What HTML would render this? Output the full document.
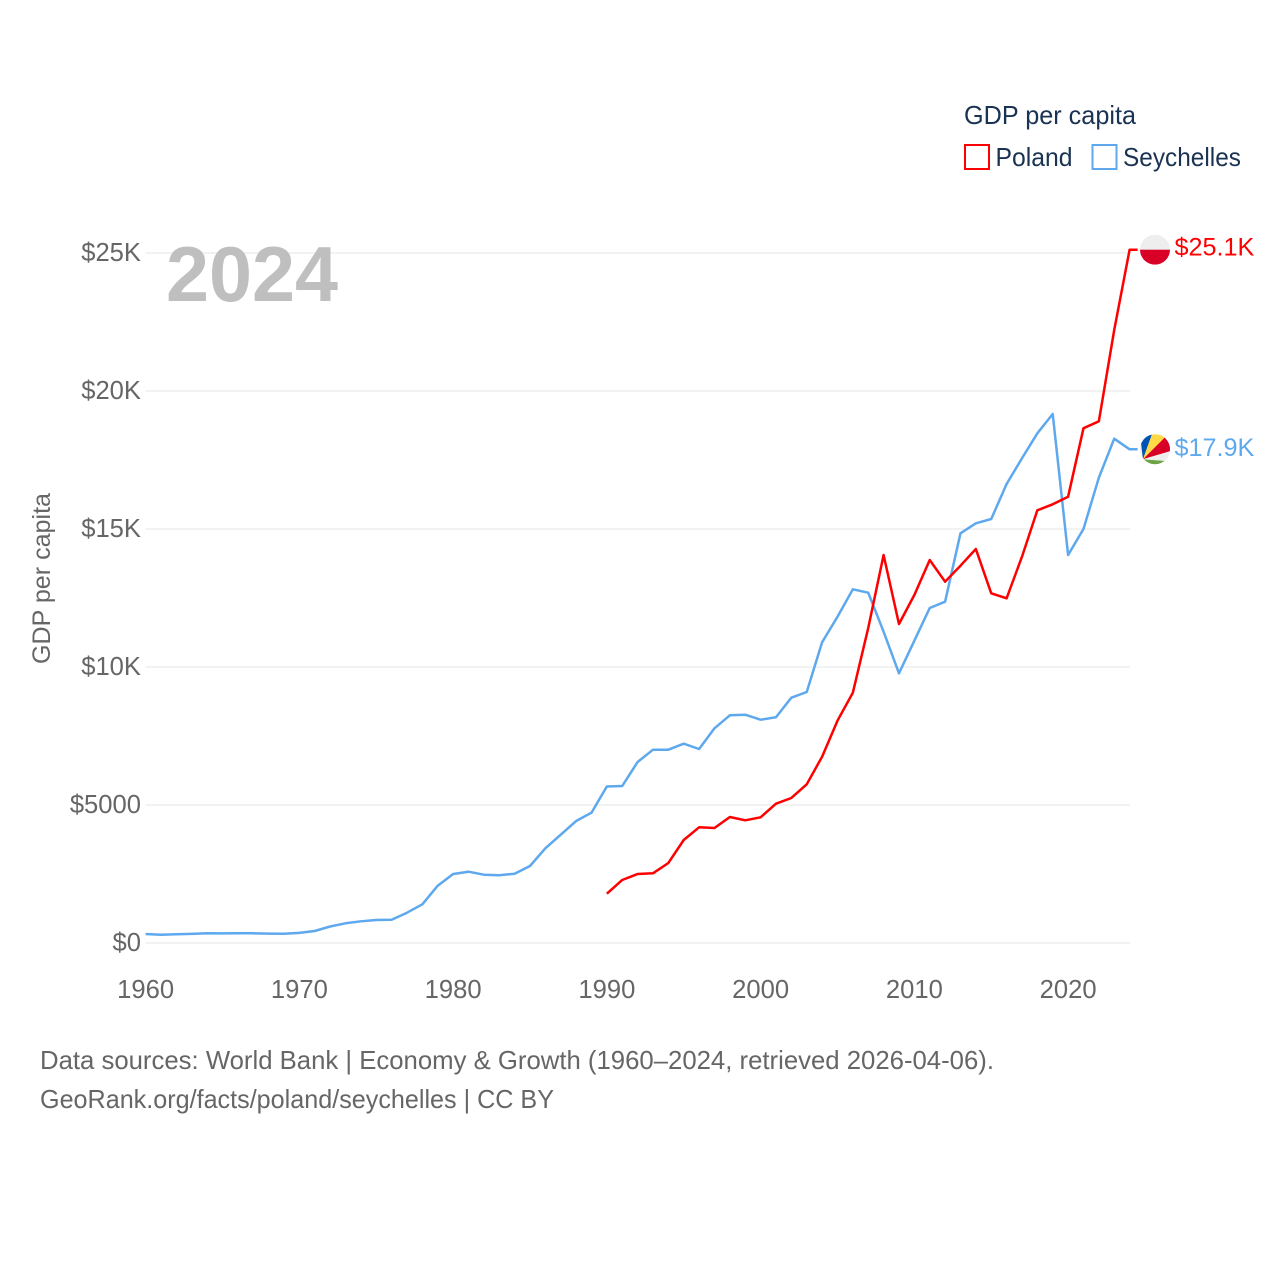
<!DOCTYPE html>
<html lang="en">
<head>
<meta charset="utf-8">
<title>GDP per capita: Poland and Seychelles</title>
<style>
html,body{margin:0;padding:0;background:#fff;}
svg{display:block;font-family:"Liberation Sans",Arial,sans-serif;}
</style>
</head>
<body>
<svg id="chart" width="1280" height="1280" viewBox="0 0 1280 1280" xmlns="http://www.w3.org/2000/svg">
  <rect x="0" y="0" width="1280" height="1280" fill="#fff"/>
  <defs>
    <clipPath id="clip-pl"><circle cx="0" cy="0" r="15"/></clipPath>
    <clipPath id="clip-sc"><circle cx="0" cy="0" r="15"/></clipPath>
  </defs>
  <g id="grid"></g>
  <g id="ticks-y"></g>
  <g id="ticks-x"></g>
  <text x="166" y="301" font-size="78" font-weight="700" fill="#bfbfbf" textLength="172" lengthAdjust="spacingAndGlyphs">2024</text>
  <text transform="translate(50,664) rotate(-90)" font-size="25" fill="#666" textLength="171" lengthAdjust="spacingAndGlyphs">GDP per capita</text>
  <g id="series"></g>

  <g id="flag-pl">
    <g clip-path="url(#clip-pl)">
      <rect x="-15" y="-15" width="30" height="15" fill="#eeeeee"/>
      <rect x="-15" y="0" width="30" height="15" fill="#d80027"/>
    </g>
  </g>
  <g id="flag-sc">
    <g clip-path="url(#clip-sc)">
      <rect x="-15" y="-15" width="30" height="30" fill="#eeeeee"/>
      <polygon points="-12,10 -15,-15 -3,-15" fill="#0052b4"/>
      <polygon points="-12,10 -3,-15 13,-15" fill="#ffda44"/>
      <polygon points="-12,10 13,-15 15,-15 15,2" fill="#d80027"/>
      <polygon points="-12,10 15,12 15,22 -12,22" fill="#6da544"/>
      <polygon points="-12,10 15,2 15,12" fill="#eeeeee"/>
    </g>
  </g>
  <text id="label-pl" x="1174.5" font-size="25.2" fill="#ff0000"></text>
  <text id="label-sc" x="1174.5" font-size="25.2" fill="#5ea8ee"></text>

  <g>
    <text x="964" y="124" font-size="25.6" fill="#1a3353" textLength="172" lengthAdjust="spacingAndGlyphs">GDP per capita</text>
    <rect x="965" y="145" width="24" height="24" fill="#fff" stroke="#ff0000" stroke-width="2"/>
    <text x="995.5" y="166" font-size="25.6" fill="#1a3353" textLength="77" lengthAdjust="spacingAndGlyphs">Poland</text>
    <rect x="1092.5" y="145" width="24" height="24" fill="#fff" stroke="#5ea8ee" stroke-width="2"/>
    <text x="1123" y="166" font-size="25.6" fill="#1a3353" textLength="118" lengthAdjust="spacingAndGlyphs">Seychelles</text>
  </g>

  <g>
    <text x="40" y="1069" font-size="25.6" fill="#666" textLength="954" lengthAdjust="spacingAndGlyphs">Data sources: World Bank | Economy &amp; Growth (1960–2024, retrieved 2026-04-06).</text>
    <text x="40" y="1108" font-size="25.6" fill="#666" textLength="514" lengthAdjust="spacingAndGlyphs">GeoRank.org/facts/poland/seychelles | CC BY</text>
  </g>
</svg>
<script>
const yTickValues = [0, 5000, 10000, 15000, 20000, 25000];
const yTickLabels = ["$0", "$5000", "$10K", "$15K", "$20K", "$25K"];
const xTickYears = [1960, 1970, 1980, 1990, 2000, 2010, 2020];

const seychellesStartYear = 1960;
const seychellesValues = [326, 301, 315, 330, 351, 348, 351, 351, 341, 337,
  366, 435, 598, 714, 786, 833, 844, 1098, 1402, 2076,
  2500, 2583, 2475, 2453, 2511, 2790, 3431, 3924, 4420, 4721,
  5670, 5688, 6558, 7004, 7004, 7221, 7029, 7779, 8250, 8272,
  8091, 8178, 8888, 9094, 10895, 11822, 12815, 12692, 11279, 9772,
  10953, 12138, 12366, 14844, 15207, 15362, 16630, 17562, 18467, 19167,
  14058, 15000, 16859, 18272, 17888];

const polandStartYear = 1990;
const polandValues = [1786, 2283, 2500, 2525, 2899, 3732, 4192, 4167, 4565, 4446,
  4554, 5047, 5254, 5750, 6750, 8054, 9069, 11413, 14058, 11558,
  12609, 13877, 13091, 13670, 14275, 12670, 12489, 13996, 15678, 15895,
  16170, 18649, 18902, 22210, 25120];

const SVG_NS = "http://www.w3.org/2000/svg";
function xScale(year) { return 145.6 + (year - 1960) * (984 / 64); }
function yScale(value) { return 943 - value * (690 / 25000); }
function make(tag, attrs, parent) {
  const el = document.createElementNS(SVG_NS, tag);
  for (const k in attrs) el.setAttribute(k, attrs[k]);
  parent.appendChild(el);
  return el;
}
function formatK(v) { return "$" + (v / 1000).toFixed(1) + "K"; }

const gridGroup = document.getElementById("grid");
const yGroup = document.getElementById("ticks-y");
yTickValues.forEach(function (v, i) {
  const line = make("line", {x1: 145.6, x2: 1130, y1: yScale(v), y2: yScale(v), stroke: "#e6e6e6", "stroke-width": 1}, gridGroup);
  
  
  const label = make("text", {x: 141, y: yScale(v) + 8, "text-anchor": "end", "font-size": 25.6, fill: "#666"}, yGroup);
  
  
  label.textContent = yTickLabels[i];
});

const xGroup = document.getElementById("ticks-x");
xTickYears.forEach(function (year) {
  const label = make("text", {x: xScale(year), y: 998, "text-anchor": "middle", "font-size": 25.6, fill: "#666"}, xGroup);
  
  
  label.textContent = String(year);
});

function linePoints(startYear, values) {
  const pts = values.map(function (v, i) {
    return xScale(startYear + i).toFixed(2) + "," + yScale(v).toFixed(2);
  });
  const lastX = xScale(startYear + values.length - 1);
  pts.push((lastX + 8).toFixed(2) + "," + yScale(values[values.length - 1]).toFixed(2));
  return pts.join(" ");
}
const seriesGroup = document.getElementById("series");
const seychellesLine = make("polyline", {points: linePoints(seychellesStartYear, seychellesValues), fill: "none", stroke: "#5ea8ee", "stroke-width": 2.5, "stroke-linejoin": "round"}, seriesGroup);


const polandLine = make("polyline", {points: linePoints(polandStartYear, polandValues), fill: "none", stroke: "#ff0000", "stroke-width": 2.5, "stroke-linejoin": "round"}, seriesGroup);



const lastPoland = polandValues[polandValues.length - 1];
const lastSeychelles = seychellesValues[seychellesValues.length - 1];
document.getElementById("flag-pl").setAttribute("transform", "translate(1155," + yScale(lastPoland) + ")");
document.getElementById("flag-sc").setAttribute("transform", "translate(1155," + yScale(lastSeychelles) + ")");
const labelPl = document.getElementById("label-pl");
labelPl.setAttribute("y", yScale(lastPoland) + 6);
labelPl.textContent = formatK(lastPoland);
const labelSc = document.getElementById("label-sc");
labelSc.setAttribute("y", yScale(lastSeychelles) + 6.5);
labelSc.textContent = formatK(lastSeychelles);
</script>
</body>
</html>
